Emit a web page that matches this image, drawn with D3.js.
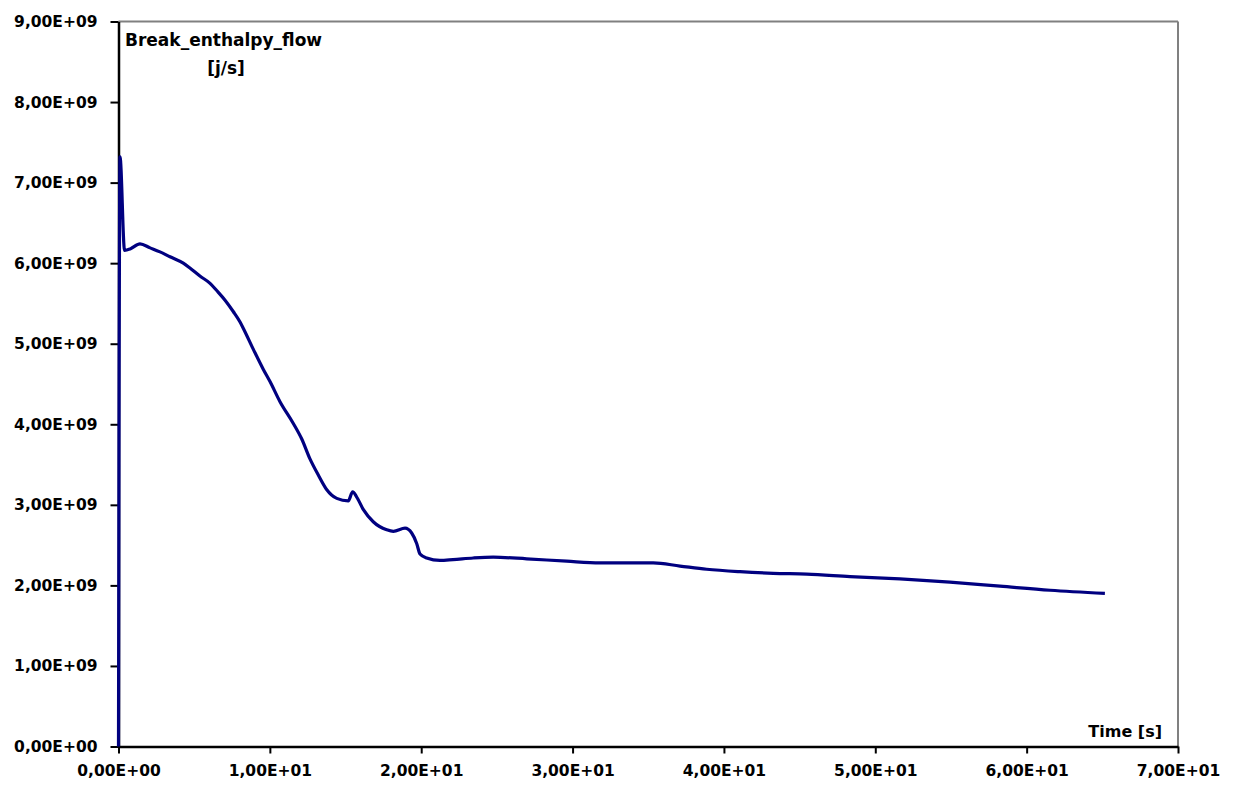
<!DOCTYPE html>
<html>
<head>
<meta charset="utf-8">
<script src="https://cdn.jsdelivr.net/npm/d3@7"></script>
<style>
  body { margin: 0; background: #fff; }
  text { font-family: "DejaVu Sans", sans-serif; font-weight: bold; }
</style>
</head>
<body>
<svg id="chart"></svg>
<script>
// time [s]
let times = [0, 0.03, 0.1, 0.4, 0.8, 1.42, 2.09, 2.74, 3.4, 4.28, 4.72, 5.38, 6.05, 6.49, 7.04, 7.58,
    8.03, 8.25, 8.91, 9.57, 10.01, 10.67, 11.55, 12.10, 12.65, 13.2, 13.75, 14.42, 15.18, 15.47,
    15.73, 16.18, 16.83, 17.72, 18.16, 18.93, 19.37, 19.70, 19.92, 20.36, 21.24, 22.1, 23.44, 24.76,
    26.97, 29.61, 31.81, 35.33, 37.1, 38.86, 41.06, 43.26, 45.47, 48.33, 51.63, 54.93, 58.24, 61.55, 65.17]
// break enthalpy flow [j/s]
let flows = [0, 3.5e9, 7.32e9, 6.16e9, 6.18e9, 6.24e9, 6.19e9, 6.14e9, 6.08e9, 6.00e9, 5.94e9, 5.84e9,
    5.75e9, 5.66e9, 5.54e9, 5.40e9, 5.27e9, 5.19e9, 4.93e9, 4.68e9, 4.53e9, 4.28e9, 4.01e9, 3.82e9,
    3.57e9, 3.37e9, 3.19e9, 3.08e9, 3.05e9, 3.16e9, 3.10e9, 2.94e9, 2.79e9, 2.69e9, 2.67e9, 2.71e9,
    2.65e9, 2.52e9, 2.39e9, 2.34e9, 2.31e9, 2.32e9, 2.34e9, 2.35e9, 2.33e9, 2.30e9, 2.28e9, 2.28e9,
    2.24e9, 2.20e9, 2.17e9, 2.15e9, 2.14e9, 2.11e9, 2.08e9, 2.04e9, 1.99e9, 1.94e9, 1.90e9]

let xTicks = [0, 10, 20, 30, 40, 50, 60, 70]
let yTicks = [0, 1e9, 2e9, 3e9, 4e9, 5e9, 6e9, 7e9, 8e9, 9e9]

let values = times.map((t, i) => ({ t: t, v: flows[i] }))

let width = 1233
let height = 785
let plotLeft = 118.5
let plotRight = 1178
let plotTop = 21.5
let plotBottom = 746.5

let svg = d3.select('#chart')
svg.attr('width', width).attr('height', height)

let xScale = d3.scaleLinear().domain([0, 70]).range([plotLeft, plotRight])
let yScale = d3.scaleLinear().domain([0, 9e9]).range([plotBottom, plotTop])

// 1,00E+01 style labels
let sci = (d) => {
    let s = d3.format('.2e')(d)
    let parts = s.split('e')
    let exp = parseInt(parts[1])
    let sign = exp < 0 ? '-' : '+'
    let e = String(Math.abs(exp)).padStart(2, '0')
    return parts[0].replace('.', ',') + 'E' + sign + e
}

// frame: top and right in grey
svg.append('line')
    .attr('x1', plotLeft).attr('x2', plotRight).attr('y1', plotTop).attr('y2', plotTop)
    .attr('stroke', '#808080').attr('stroke-width', 2)
svg.append('line')
    .attr('x1', plotRight).attr('x2', plotRight).attr('y1', plotTop).attr('y2', plotBottom)
    .attr('stroke', '#808080').attr('stroke-width', 2)

// axes
let xAxis = d3.axisBottom(xScale).tickValues(xTicks).tickFormat(sci).tickSizeInner(7).tickSizeOuter(0).tickPadding(11)
let yAxis = d3.axisLeft(yScale).tickValues(yTicks).tickFormat(sci).tickSizeInner(8).tickSizeOuter(0).tickPadding(13)

let gx = svg.append('g')
    .attr('transform', 'translate(0,' + plotBottom + ')')
    .call(xAxis)
let gy = svg.append('g')
    .attr('transform', 'translate(' + plotLeft + ',0)')
    .call(yAxis)

;[gx, gy].forEach(g => {
    g.select('.domain').attr('stroke', '#000').attr('stroke-width', 2.5)
    g.selectAll('.tick line').attr('stroke', '#000').attr('stroke-width', 2)
    g.selectAll('.tick text')
        .attr('fill', '#000')
        .style('font-size', '15.5px')
        .style('font-family', '"DejaVu Sans", sans-serif')
        .style('font-weight', 'bold')
})

// data line
let line = d3.line()
    .curve(d3.curveMonotoneX)
    .x(d => xScale(d.t))
    .y(d => yScale(d.v))

svg.append('path')
    .datum(values)
    .attr('fill', 'none')
    .attr('stroke', '#000080')
    .attr('stroke-width', 3.2)
    .attr('stroke-linejoin', 'round')
    .attr('d', line)

// titles
svg.append('text')
    .attr('x', 125).attr('y', 46)
    .style('font-size', '17px')
    .text('Break_enthalpy_flow')
svg.append('text')
    .attr('x', 226).attr('y', 74)
    .attr('text-anchor', 'middle')
    .style('font-size', '17px')
    .text('[j/s]')
svg.append('text')
    .attr('x', 1162).attr('y', 737)
    .attr('text-anchor', 'end')
    .style('font-size', '16px')
    .text('Time [s]')
</script>
</body>
</html>
